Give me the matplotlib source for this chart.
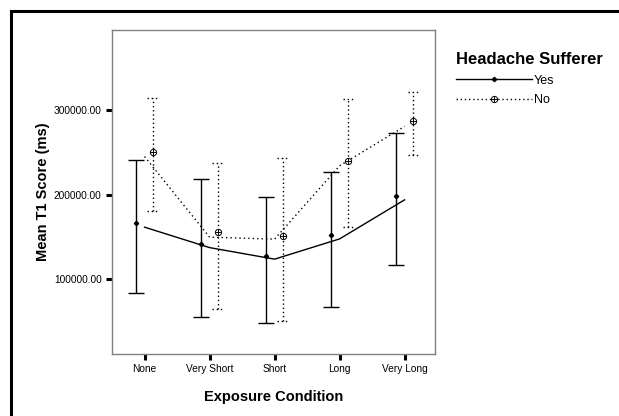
import numpy as np
import matplotlib.pyplot as plt
from matplotlib.lines import Line2D

conditions = ["None", "Very Short", "Short", "Long", "Very Long"]

# Yes (headache sufferers)
yes_mean = [166800, 141500, 127600, 152600, 198800]
yes_upper = [241000, 217800, 197600, 226900, 272400]
yes_lower = [83400, 55300, 47400, 67100, 116600]
yes_line = [161300, 137100, 123400, 147400, 193700]

# No
no_mean = [250600, 155400, 151400, 240000, 287400]
no_upper = [313900, 236800, 243500, 312700, 321800]
no_lower = [180300, 64700, 50200, 162000, 246300]
no_line = [245000, 149500, 147100, 234000, 280700]

plt.rcParams['font.family'] = ['Liberation Sans', 'DejaVu Sans']

fig = plt.figure(figsize=(6.19, 4.16), dpi=100)
ax = fig.add_axes([0.181, 0.149, 0.522, 0.779])

x = np.arange(len(conditions))
off = 0.125
dots = (0, (1, 2))

ax.plot(x, yes_line, color="black", lw=1, ls="-")
ax.plot(x, no_line, color="black", lw=1, ls=(0, (1, 2.2)))

ym = np.array(yes_mean)
ax.errorbar(x - off, yes_mean, yerr=[ym - np.array(yes_lower), np.array(yes_upper) - ym],
            fmt="D", ms=2.2, color="black", ecolor="black", elinewidth=1, capsize=5.5, capthick=1)

# No: dotted bars with dotted caps
for xi, lo, hi in zip(x + off, no_lower, no_upper):
    ax.plot([xi, xi], [lo, hi], color="black", lw=1, ls=dots)
    for v in (lo, hi):
        ax.plot([xi - 0.08, xi + 0.08], [v, v], color="black", lw=1, ls=dots)
ax.plot(x + off, no_mean, ls="none", marker="o", ms=4.5, mfc="white", mec="black", mew=0.7, zorder=4)
ax.plot(x + off, no_mean, ls="none", marker="+", ms=4.5, color="black", mew=0.7, zorder=5)

ax.set_xlim(-0.5, 4.47)
ax.set_ylim(11000, 395000)
ax.set_xticks(x)
ax.set_xticklabels(conditions, fontsize=7.3)
ax.set_yticks([100000, 200000, 300000])
ax.set_yticklabels(["100000.00", "200000.00", "300000.00"], fontsize=7.3)
ax.tick_params(axis="both", length=4.5, width=2.2, color="black", pad=3)
for s in ax.spines.values():
    s.set_color("#808080")
    s.set_linewidth(1)

ax.set_xlabel("Exposure Condition", fontsize=10.5, fontweight="bold", labelpad=11)
ax.set_ylabel("Mean T1 Score (ms)", fontsize=10.5, fontweight="bold", labelpad=3)

h_yes = Line2D([], [], color="black", lw=1, ls="-", marker="D", ms=2.2)
h_no_a = Line2D([], [], color="black", lw=1, ls=dots, marker="o", ms=4.5, mfc="white", mew=0.7)
h_no_b = Line2D([], [], ls="none", color="black", marker="+", ms=4.5, mew=0.7)
leg = fig.legend([h_yes, (h_no_a, h_no_b)], ["Yes", "No"], title="Headache Sufferer",
                 loc="upper left", bbox_to_anchor=(456 / 619, 1 - 52 / 416), frameon=False,
                 fontsize=9, title_fontproperties={"weight": "bold", "size": 12},
                 handlelength=6.1, handletextpad=0.15, labelspacing=0.6,
                 alignment="left", borderaxespad=0, borderpad=0)

# outer frame (top and left only visible)
fig.add_artist(Line2D([11 / 619, 1], [1 - 11 / 416, 1 - 11 / 416], color="black", lw=2.2,
                      transform=fig.transFigure))
fig.add_artist(Line2D([11 / 619, 11 / 619], [0, 1 - 11 / 416], color="black", lw=2.2,
                      transform=fig.transFigure))

fig.savefig("out.png", dpi=100)
